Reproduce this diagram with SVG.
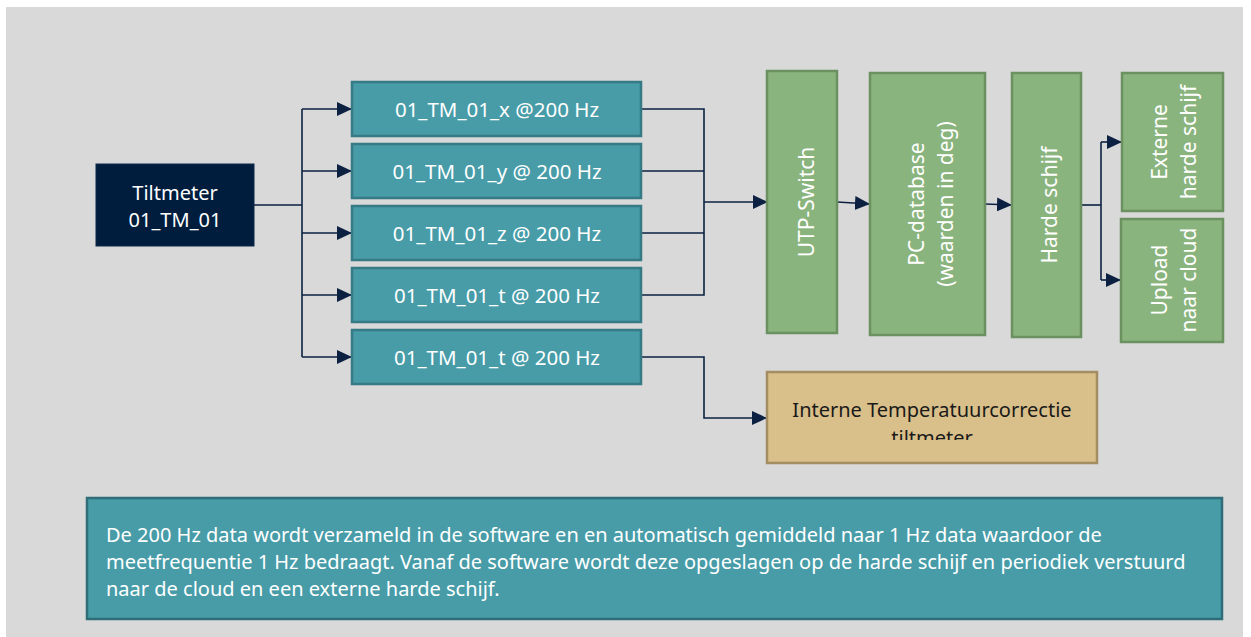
<svg xmlns="http://www.w3.org/2000/svg" width="1251" height="637" viewBox="0 0 1251 637">
<defs>
<marker id="ah" markerWidth="16" markerHeight="16" refX="15" refY="7" orient="auto" markerUnits="userSpaceOnUse">
<path d="M0,0 L15,7 L0,14 Z" fill="#0c2142"/>
</marker>
<clipPath id="tanclip"><rect x="767" y="372" width="330" height="68"/></clipPath>
</defs>
<style>
.t{font-family:"Noto Sans","Open Sans","Liberation Sans",sans-serif;fill:#ffffff;}
.teal{fill:#479ca8;stroke:#357a84;stroke-width:2.5;}
.green{fill:#8ab47e;stroke:#6b9161;stroke-width:2.5;}
.tan{fill:#d9bf89;stroke:#a38d62;stroke-width:2.5;}
.c{fill:none;stroke:#0c2142;stroke-width:1.6;}
.ca{fill:none;stroke:#0c2142;stroke-width:1.6;marker-end:url(#ah);}
</style>
<rect x="0" y="0" width="1251" height="637" fill="#ffffff"/>
<rect x="6" y="7" width="1237" height="630" fill="#d9d9d9"/>

<g id="connectors">
<path class="c" d="M254,205 H302"/>
<path class="c" d="M302,109 V357"/>
<path class="ca" d="M302,109 H352"/>
<path class="ca" d="M302,171 H352"/>
<path class="ca" d="M302,233 H352"/>
<path class="ca" d="M302,295 H352"/>
<path class="ca" d="M302,357 H352"/>
<path class="c" d="M641,109 H704 V295 H641"/>
<path class="c" d="M641,171 H704"/>
<path class="c" d="M641,233 H704"/>
<path class="ca" d="M704,202 H768"/>
<path class="ca" d="M641,357 H704 V418 H767"/>
<path class="ca" d="M837,202 L870,204"/>
<path class="ca" d="M985,204 L1012,205"/>
<path class="c" d="M1081,205 H1101"/>
<path class="c" d="M1101,142 V280"/>
<path class="ca" d="M1101,142 H1122"/>
<path class="ca" d="M1101,280 H1121"/>
</g>

<g id="tiltmeter">
<rect x="96" y="164" width="158" height="82" fill="#001d3d" stroke="#0b2a4a" stroke-width="1"/>
<text class="t" x="175" y="200" font-size="20" text-anchor="middle">Tiltmeter</text>
<text class="t" x="175" y="227" font-size="20" text-anchor="middle">01_TM_01</text>
</g>

<g id="tm_x">
<rect class="teal" x="352" y="82" width="289" height="54"/>
<text class="t" x="497" y="117" font-size="20.5" text-anchor="middle">01_TM_01_x @200 Hz</text>
</g>
<g id="tm_y">
<rect class="teal" x="352" y="144" width="289" height="54"/>
<text class="t" x="497" y="179" font-size="20.5" text-anchor="middle">01_TM_01_y @ 200 Hz</text>
</g>
<g id="tm_z">
<rect class="teal" x="352" y="206" width="289" height="54"/>
<text class="t" x="497" y="241" font-size="20.5" text-anchor="middle">01_TM_01_z @ 200 Hz</text>
</g>
<g id="tm_t1">
<rect class="teal" x="352" y="268" width="289" height="54"/>
<text class="t" x="497" y="303" font-size="20.5" text-anchor="middle">01_TM_01_t @ 200 Hz</text>
</g>
<g id="tm_t2">
<rect class="teal" x="352" y="330" width="289" height="54"/>
<text class="t" x="497" y="365" font-size="20.5" text-anchor="middle">01_TM_01_t @ 200 Hz</text>
</g>

<g id="utp">
<rect class="green" x="767" y="71" width="70" height="262"/>
<text class="t" font-size="21" text-anchor="middle" transform="translate(814,202) rotate(-90)">UTP-Switch</text>
</g>
<g id="pcdb">
<rect class="green" x="870" y="73" width="115" height="262"/>
<text class="t" font-size="21" text-anchor="middle" transform="translate(924,204) rotate(-90)">PC-database</text>
<text class="t" font-size="21" text-anchor="middle" transform="translate(953,204) rotate(-90)">(waarden in deg)</text>
</g>
<g id="harde">
<rect class="green" x="1012" y="73" width="69" height="264"/>
<text class="t" font-size="21" text-anchor="middle" transform="translate(1057,205) rotate(-90)">Harde schijf</text>
</g>
<g id="externe">
<rect class="green" x="1122" y="73" width="101" height="138"/>
<text class="t" font-size="21" text-anchor="middle" transform="translate(1167,142) rotate(-90)">Externe</text>
<text class="t" font-size="21" text-anchor="middle" transform="translate(1196,142) rotate(-90)">harde schijf</text>
</g>
<g id="upload">
<rect class="green" x="1121" y="219" width="102" height="123"/>
<text class="t" font-size="21" text-anchor="middle" transform="translate(1167,280) rotate(-90)">Upload</text>
<text class="t" font-size="21" text-anchor="middle" transform="translate(1196,280) rotate(-90)">naar cloud</text>
</g>

<g id="temp">
<rect class="tan" x="767" y="372" width="330" height="91"/>
<g clip-path="url(#tanclip)">
<text font-family="Noto Sans, Open Sans, Liberation Sans, sans-serif" fill="#1a1a1a" font-size="20" text-anchor="middle" x="932" y="417">Interne Temperatuurcorrectie</text>
<text font-family="Noto Sans, Open Sans, Liberation Sans, sans-serif" fill="#1a1a1a" font-size="20" text-anchor="middle" x="932" y="445">tiltmeter</text>
</g>
</g>

<g id="description">
<rect x="87" y="498" width="1135" height="121" fill="#479ca8" stroke="#2f6e78" stroke-width="2.5"/>
<text class="t" font-size="20" x="106" y="542">De 200 Hz data wordt verzameld in de software en en automatisch gemiddeld naar 1 Hz data waardoor de</text>
<text class="t" font-size="20" x="106" y="569">meetfrequentie 1 Hz bedraagt. Vanaf de software wordt deze opgeslagen op de harde schijf en periodiek verstuurd</text>
<text class="t" font-size="20" x="106" y="596">naar de cloud en een externe harde schijf.</text>
</g>
</svg>
